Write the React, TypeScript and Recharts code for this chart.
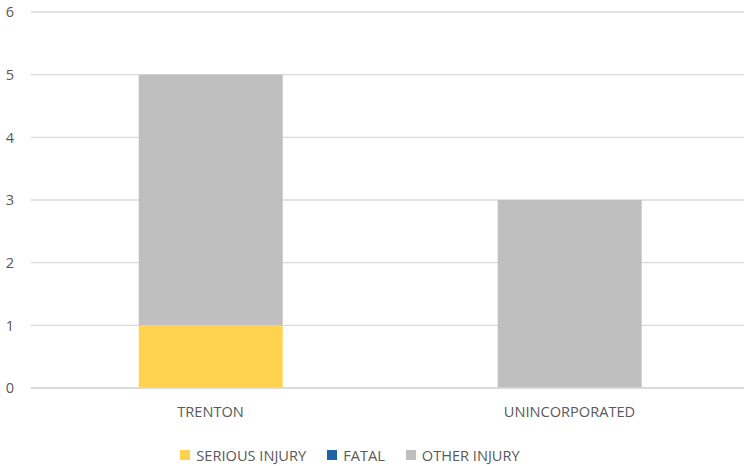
import { Bar, BarChart, CartesianGrid, Legend, XAxis, YAxis } from "recharts";

const categories = ["TRENTON", "UNINCORPORATED"];
const seriousInjury = [1, 0];
const fatal = [0, 0];
const otherInjury = [4, 3];
const yTicks = [0, 1, 2, 3, 4, 5, 6];

const series = [
  { key: "serious", name: "SERIOUS INJURY", color: "#FFD34F" },
  { key: "fatal", name: "FATAL", color: "#1F62A8" },
  { key: "other", name: "OTHER INJURY", color: "#BFBFBF" },
];

const data = categories.map((name, i) => ({
  name,
  serious: seriousInjury[i],
  fatal: fatal[i],
  other: otherInjury[i],
}));

const font = "'Open Sans', 'Noto Sans', sans-serif";
const fontSize = 14.6;

function LegendContent() {
  return (
    <div
      style={{
        height: 44,
        boxSizing: "border-box",
        paddingTop: 22,
        display: "flex",
        justifyContent: "center",
        gap: 21,
        fontFamily: font,
        fontSize,
        lineHeight: "18px",
        color: "#595959",
        paddingRight: 49,
      }}
    >
      {series.map((s) => (
        <div key={s.key} style={{ display: "flex", alignItems: "center", gap: 6 }}>
          <span style={{ width: 10, height: 10, background: s.color, display: "inline-block" }} />
          <span>{s.name}</span>
        </div>
      ))}
    </div>
  );
}

export default function App() {
  return (
    <div style={{ position: "absolute", left: 0, top: 0, width: 744, height: 466, overflow: "hidden", background: "#fff" }}>
      <BarChart
        width={760}
        height={466}
        data={data}
        margin={{ top: 12, right: 11, left: 0, bottom: 0 }}
        barCategoryGap="30%"
      >
        <CartesianGrid vertical={false} stroke="#D9D9D9" strokeWidth={1.3} />
        <XAxis
          dataKey="name"
          axisLine={{ stroke: "#D9D9D9", strokeWidth: 1.3 }}
          tickLine={false}
          height={34}
          tick={{ fill: "#595959", fontSize, fontFamily: font, dy: 11 }}
        />
        <YAxis
          domain={[0, 6]}
          ticks={yTicks}
          axisLine={false}
          tickLine={false}
          width={31}
          tick={{ fill: "#595959", fontSize, fontFamily: font, dx: -9 }}
        />
        <Legend
          verticalAlign="bottom"
          content={<LegendContent />}
          wrapperStyle={{ bottom: 0, height: 44 }}
        />
        {series.map((s) => (
          <Bar key={s.key} dataKey={s.key} name={s.name} stackId="a" fill={s.color} isAnimationActive={false} />
        ))}
      </BarChart>
    </div>
  );
}
